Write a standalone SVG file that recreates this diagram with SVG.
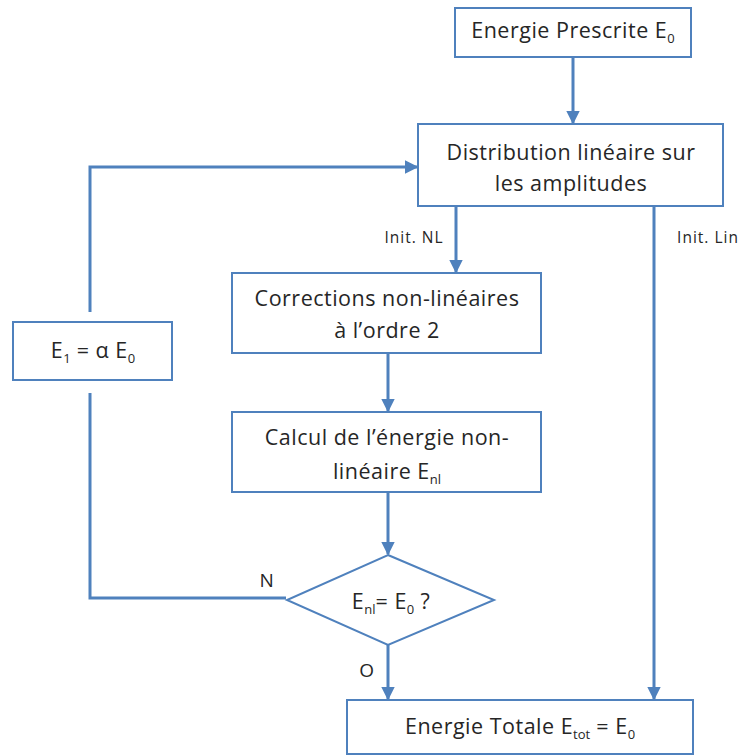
<svg xmlns="http://www.w3.org/2000/svg" width="740" height="756" viewBox="0 0 740 756">
<style>
.box{fill:#fff;stroke:#4F81BD;stroke-width:2}
.ln{fill:none;stroke:#4F81BD;stroke-width:3}
.t{font-family:"Open Sans","Liberation Sans",sans-serif;font-size:21.5px;letter-spacing:0.5px;fill:#262626;text-anchor:middle}
.s{font-family:"Open Sans","Liberation Sans",sans-serif;font-size:15.5px;letter-spacing:1px;fill:#262626;text-anchor:middle}
.sub{font-size:13px;letter-spacing:0}
</style>
<defs>
<marker id="ah" viewBox="0 0 10 10" refX="9" refY="5" markerWidth="4.5" markerHeight="4.5" orient="auto" markerUnits="strokeWidth">
<path d="M0,0 L10,5 L0,10 z" fill="#4F81BD"/>
</marker>
</defs>
<rect width="740" height="756" fill="#fff"/>
<g id="connectors">
<path class="ln" d="M573,57 V123" marker-end="url(#ah)"/>
<path class="ln" d="M90,312 V167 H417" marker-end="url(#ah)"/>
<path class="ln" d="M456,206 V272" marker-end="url(#ah)"/>
<path class="ln" d="M388,353 V411" marker-end="url(#ah)"/>
<path class="ln" d="M388,492 V554" marker-end="url(#ah)"/>
<path class="ln" d="M90,393 V598 H286"/>
<path class="ln" d="M388,645 V699" marker-end="url(#ah)"/>
<path class="ln" d="M654,206 V699" marker-end="url(#ah)"/>
<text class="s" x="414" y="243">Init. NL</text>
<text class="s" x="708" y="243">Init. Lin</text>
<text class="t" x="267" y="587" style="font-size:19px">N</text>
<text class="t" x="367" y="677" style="font-size:19px">O</text>
</g>
<g id="n1">
<rect class="box" x="455" y="8" width="236" height="49"/>
<text class="t" x="573" y="38">Energie Prescrite E<tspan class="sub" dy="5">0</tspan></text>
</g>
<g id="n2">
<rect class="box" x="418" y="124" width="305" height="82"/>
<text class="t" x="571" y="160">Distribution linéaire sur</text>
<text class="t" x="571" y="191">les amplitudes</text>
</g>
<g id="n3">
<rect class="box" x="232" y="273" width="309" height="80"/>
<text class="t" x="387" y="306">Corrections non-linéaires</text>
<text class="t" x="387" y="338">à l’ordre 2</text>
</g>
<g id="n4">
<rect class="box" x="232" y="412" width="309" height="80"/>
<text class="t" x="387" y="445">Calcul de l’énergie non-</text>
<text class="t" x="387" y="479">linéaire E<tspan class="sub" dy="5">nl</tspan></text>
</g>
<g id="n5">
<rect class="box" x="13" y="322" width="159" height="58"/>
<text class="t" x="93" y="358">E<tspan class="sub" dy="5">1</tspan><tspan dy="-5"> = α E</tspan><tspan class="sub" dy="5">0</tspan></text>
</g>
<g id="n6">
<path class="box" d="M388,555 L494,600 L388,645 L287,600 Z"/>
<text class="t" x="391" y="609">E<tspan class="sub" dy="5">nl</tspan><tspan dy="-5">= E</tspan><tspan class="sub" dy="5">0</tspan><tspan dy="-5"> ?</tspan></text>
</g>
<g id="n7">
<rect class="box" x="347" y="700" width="346" height="54"/>
<text class="t" x="520" y="734">Energie Totale E<tspan class="sub" dy="5">tot</tspan><tspan dy="-5"> = E</tspan><tspan class="sub" dy="5">0</tspan></text>
</g>
</svg>
